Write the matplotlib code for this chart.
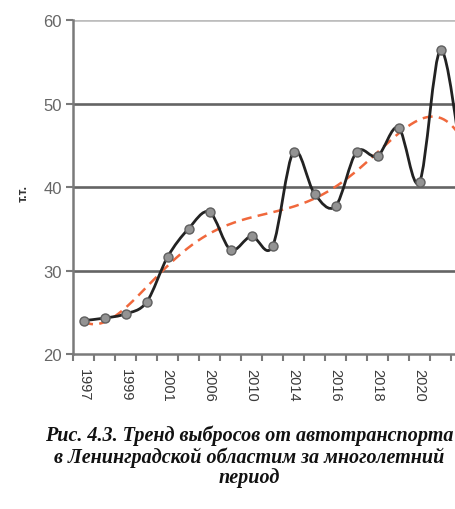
import numpy as np
import matplotlib
matplotlib.use('Agg')
import matplotlib.pyplot as plt
from matplotlib.path import Path
from matplotlib.patches import PathPatch

# categories (years) and emissions, thousand tonnes
years = ['1997', '1998', '1999', '2000', '2001', '2005', '2006', '2008', '2010', '2012',
         '2014', '2015', '2016', '2017', '2018', '2019', '2020', '2021', '2022']
values = [24.0, 24.3, 24.8, 26.2, 31.6, 35.0, 37.0, 32.5, 34.1, 32.9,
          44.2, 39.2, 37.7, 44.2, 43.7, 47.1, 40.6, 56.4, 43.3]
y_ticks = [20, 30, 40, 50, 60]
y_label = 'т.т.'
caption = ('Рис. 4.3. Тренд выбросов от автотранспорта\n'
           'в Ленинградской областим за многолетний\n'
           'период')


def smooth_path(x, y, k=1.0 / 6):
  # Excel-like smoothed line: cubic bezier between neighbours
  verts = [(x[0], y[0])]
  codes = [Path.MOVETO]
  n = len(x)
  for i in range(n - 1):
    x0, y0 = (x[i - 1], y[i - 1]) if i > 0 else (x[i], y[i])
    x3, y3 = (x[i + 2], y[i + 2]) if i < n - 2 else (x[i + 1], y[i + 1])
    c1 = (x[i] + (x[i + 1] - x0) * k, y[i] + (y[i + 1] - y0) * k)
    c2 = (x[i + 1] - (x3 - x[i]) * k, y[i + 1] - (y3 - y[i]) * k)
    verts += [c1, c2, (x[i + 1], y[i + 1])]
    codes += [Path.CURVE4] * 3
  return Path(verts, codes)


W, H = 455, 510
fig = plt.figure(figsize=(W / 100, H / 100), dpi=100)
n = len(years)
step = 21.0
ax = fig.add_axes([73 / W, (H - 355) / H, n * step / W, 334 / H])

xs = np.arange(n)
vals = np.array(values)

# polynomial trend (6th order, as in Excel)
coef = np.polyfit(xs + 1, vals, 6)
xt = np.linspace(0, n - 1, 300)
ax.plot(xt, np.polyval(coef, xt + 1), color='#f0683c', lw=1.8,
        dashes=(4, 2.5), zorder=3)

ax.add_patch(PathPatch(smooth_path(xs, vals), facecolor='none',
                       edgecolor='#222222', lw=2.0, zorder=4))
ax.plot(xs, vals, ls='none', marker='o', ms=6.5, mfc='#939393',
        mec='#5f5f5f', mew=1.0, zorder=5)

ax.set_xlim(-0.5, n - 0.5)
ax.set_ylim(20, 60)

# gridlines
for v in y_ticks[1:]:
  ax.axhline(v, color='#bdbdbd' if v == 60 else '#646464', lw=1.9, zorder=1)

ax.set_yticks(y_ticks)
ax.tick_params(axis='y', length=5, width=1.5, color='#7a7a7a', pad=3,
               labelsize=12, labelcolor='#666666')
ax.set_xticks(np.arange(n + 1) - 0.5)
ax.set_xticklabels([])
ax.set_xticks(xs, minor=True)
ax.set_xticklabels([y if i % 2 == 0 else '' for i, y in enumerate(years)],
                   minor=True, rotation=270, fontsize=10.5, color='#3a3a3a')
ax.tick_params(axis='x', which='major', length=5, width=1.5, color='#7a7a7a')
ax.tick_params(axis='x', which='minor', length=0, pad=10)
for lab in ax.get_xticklabels(minor=True) + ax.get_yticklabels():
  lab.set_family('Liberation Sans')

for s in ['top', 'right']:
  ax.spines[s].set_visible(False)
ax.spines['left'].set_color('#7a7a7a')
ax.spines['left'].set_linewidth(1.8)
ax.spines['bottom'].set_color('#7a7a7a')
ax.spines['bottom'].set_linewidth(1.8)

fig.text(24 / W, 1 - 193 / H, y_label, rotation=90, ha='center', va='center',
         fontsize=9, fontweight='bold', color='#333333', family='Liberation Sans')

fig.text(249 / W, 1 - 457 / H, caption, ha='center', va='center',
         fontsize=14.5, fontweight='bold', style='italic', family='Liberation Serif',
         linespacing=1.04, color='#111111')

fig.savefig('out.png', dpi=100)
